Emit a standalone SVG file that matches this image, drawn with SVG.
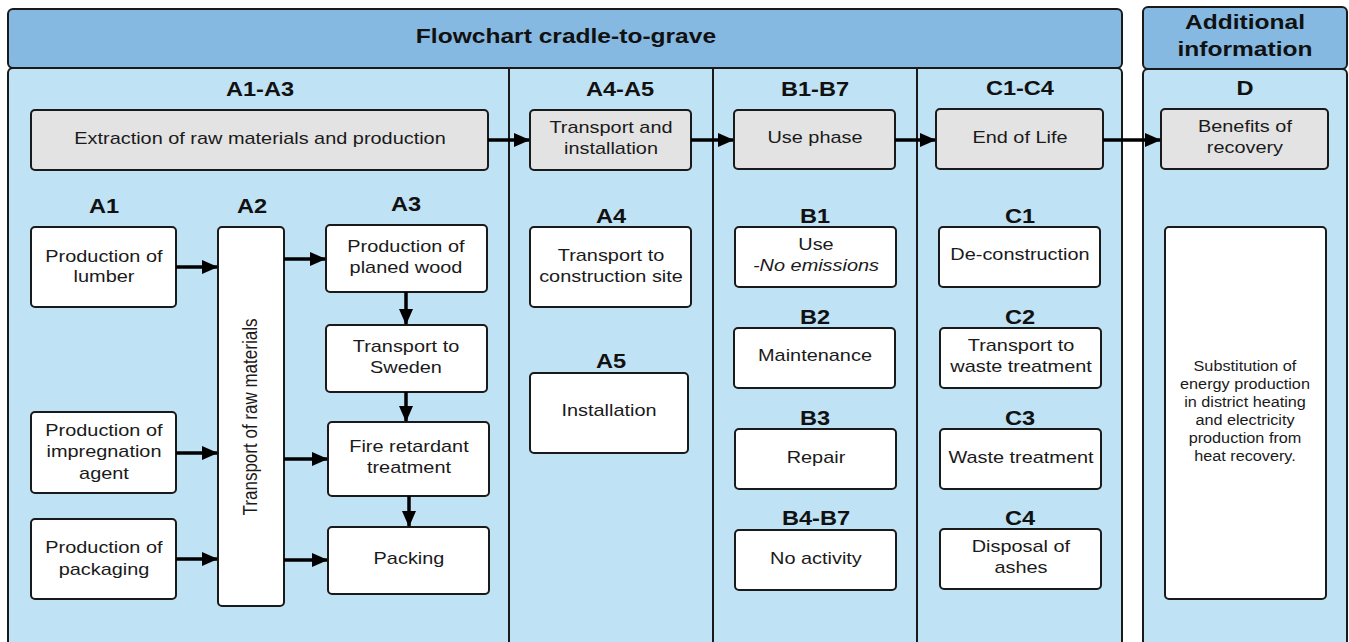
<svg xmlns="http://www.w3.org/2000/svg" width="1349" height="642" viewBox="0 0 1349 642">
<style>
.hdr{fill:#85b9e2;stroke:#1a1a1a;stroke-width:2}
.pan{fill:#c0e2f5;stroke:#1a1a1a;stroke-width:2}
.gbox{fill:#e3e3e3;stroke:#1a1a1a;stroke-width:2}
.wbox{fill:#ffffff;stroke:#1a1a1a;stroke-width:2}
text{font-family:"Liberation Sans",Arial,sans-serif;fill:#1a1a1a;text-anchor:middle}
.t,.b,.h,.s{transform-box:fill-box;transform-origin:center}
.t{font-size:17px;transform:scaleX(1.17)}
.s{font-size:14.5px;transform:scaleX(1.12)}
.b{font-size:20.5px;font-weight:bold;fill:#111;transform:scaleX(1.15)}
.h{font-size:21px;font-weight:bold;fill:#111;transform:scaleX(1.17)}
.r{font-size:17px}
.c line{stroke:#000;stroke-width:3.5;marker-end:url(#ah)}
</style>
<defs>
<marker id="ah" markerUnits="userSpaceOnUse" markerWidth="16" markerHeight="14" refX="15" refY="7" orient="auto">
<path d="M0,0 L16,7 L0,14 Z" fill="#000"/>
</marker>
</defs>
<rect width="1349" height="642" fill="#ffffff"/>
<g id="panels">
<rect class="pan" x="8" y="68" width="1114" height="590" rx="5"/>
<line x1="509" y1="68" x2="509" y2="642" stroke="#1a1a1a" stroke-width="2"/>
<line x1="713" y1="68" x2="713" y2="642" stroke="#1a1a1a" stroke-width="2"/>
<line x1="917" y1="68" x2="917" y2="642" stroke="#1a1a1a" stroke-width="2"/>
<rect class="pan" x="1143" y="69" width="204" height="590" rx="5"/>
<rect class="hdr" x="8" y="9" width="1114" height="59" rx="5"/>
<rect class="hdr" x="1143" y="7" width="204" height="62" rx="5"/>
<text class="h" x="566" y="43">Flowchart cradle-to-grave</text>
<text class="h" x="1245" y="29">Additional</text>
<text class="h" x="1245" y="56">information</text>
<text class="b" x="260" y="96.5">A1-A3</text>
<text class="b" x="620" y="96.5">A4-A5</text>
<text class="b" x="815" y="96.5">B1-B7</text>
<text class="b" x="1020" y="95.5">C1-C4</text>
<text class="b" x="1245" y="95.5">D</text>
<text class="b" x="104" y="213">A1</text>
<text class="b" x="252" y="213">A2</text>
<text class="b" x="406" y="211">A3</text>
<text class="b" x="611" y="223">A4</text>
<text class="b" x="611" y="368">A5</text>
<text class="b" x="815" y="223">B1</text>
<text class="b" x="815" y="324">B2</text>
<text class="b" x="815" y="425">B3</text>
<text class="b" x="816" y="525">B4-B7</text>
<text class="b" x="1020" y="223">C1</text>
<text class="b" x="1020" y="324">C2</text>
<text class="b" x="1020" y="425">C3</text>
<text class="b" x="1020" y="525">C4</text>
</g>
<g id="n-extraction"><rect class="gbox" x="31" y="110" width="457" height="60" rx="4"/><text class="t" x="260" y="144">Extraction of raw materials and production</text></g>
<g id="n-transport-install"><rect class="gbox" x="530" y="110" width="161" height="60" rx="4"/><text class="t" x="611" y="133">Transport and</text><text class="t" x="611" y="154">installation</text></g>
<g id="n-use-phase"><rect class="gbox" x="734" y="110" width="161" height="59" rx="4"/><text class="t" x="815" y="143">Use phase</text></g>
<g id="n-eol"><rect class="gbox" x="936" y="109" width="167" height="60" rx="4"/><text class="t" x="1020" y="143">End of Life</text></g>
<g id="n-benefits"><rect class="gbox" x="1161" y="109" width="167" height="60" rx="4"/><text class="t" x="1245" y="132">Benefits of</text><text class="t" x="1245" y="153">recovery</text></g>
<g id="n-lumber"><rect class="wbox" x="31" y="227" width="145" height="80" rx="4"/><text class="t" x="104" y="262">Production of</text><text class="t" x="104" y="282">lumber</text></g>
<g id="n-impreg"><rect class="wbox" x="31" y="412" width="145" height="81" rx="4"/><text class="t" x="104" y="436">Production of</text><text class="t" x="104" y="457">impregnation</text><text class="t" x="104" y="479">agent</text></g>
<g id="n-packaging"><rect class="wbox" x="31" y="519" width="145" height="80" rx="4"/><text class="t" x="104" y="553">Production of</text><text class="t" x="104" y="575">packaging</text></g>
<g id="n-transport-raw"><rect class="wbox" x="218" y="227" width="66" height="379" rx="4"/><text class="r" transform="translate(257,417) scale(1.17,1) rotate(-90)">Transport of raw materials</text></g>
<g id="n-planed"><rect class="wbox" x="326" y="225" width="161" height="67" rx="4"/><text class="t" x="406" y="252">Production of</text><text class="t" x="406" y="273">planed wood</text></g>
<g id="n-sweden"><rect class="wbox" x="326" y="325" width="161" height="67" rx="4"/><text class="t" x="406" y="352">Transport to</text><text class="t" x="406" y="373">Sweden</text></g>
<g id="n-fire"><rect class="wbox" x="328" y="422" width="161" height="74" rx="4"/><text class="t" x="409" y="452">Fire retardant</text><text class="t" x="409" y="473">treatment</text></g>
<g id="n-packing"><rect class="wbox" x="328" y="527" width="161" height="67" rx="4"/><text class="t" x="409" y="564">Packing</text></g>
<g id="n-a4"><rect class="wbox" x="530" y="227" width="161" height="80" rx="4"/><text class="t" x="611" y="261">Transport to</text><text class="t" x="611" y="282">construction site</text></g>
<g id="n-a5"><rect class="wbox" x="530" y="373" width="158" height="80" rx="4"/><text class="t" x="609" y="416">Installation</text></g>
<g id="n-b1"><rect class="wbox" x="735" y="227" width="161" height="60" rx="4"/><text class="t" x="816" y="250">Use</text><text class="t" x="816" y="271" font-style="italic">-No emissions</text></g>
<g id="n-b2"><rect class="wbox" x="734" y="328" width="161" height="60" rx="4"/><text class="t" x="815" y="361">Maintenance</text></g>
<g id="n-b3"><rect class="wbox" x="735" y="429" width="161" height="60" rx="4"/><text class="t" x="816" y="463">Repair</text></g>
<g id="n-b4b7"><rect class="wbox" x="735" y="530" width="161" height="60" rx="4"/><text class="t" x="816" y="564">No activity</text></g>
<g id="n-c1"><rect class="wbox" x="939" y="227" width="161" height="60" rx="4"/><text class="t" x="1020" y="260">De-construction</text></g>
<g id="n-c2"><rect class="wbox" x="940" y="328" width="161" height="60" rx="4"/><text class="t" x="1021" y="351">Transport to</text><text class="t" x="1021" y="372">waste treatment</text></g>
<g id="n-c3"><rect class="wbox" x="940" y="429" width="161" height="60" rx="4"/><text class="t" x="1021" y="463">Waste treatment</text></g>
<g id="n-c4"><rect class="wbox" x="940" y="529" width="161" height="60" rx="4"/><text class="t" x="1021" y="552">Disposal of</text><text class="t" x="1021" y="573">ashes</text></g>
<g id="n-d"><rect class="wbox" x="1165" y="227" width="161" height="372" rx="4"/>
<text class="s" x="1245" y="371">Substitution of</text>
<text class="s" x="1245" y="389">energy production</text>
<text class="s" x="1245" y="407">in district heating</text>
<text class="s" x="1245" y="425">and electricity</text>
<text class="s" x="1245" y="443">production from</text>
<text class="s" x="1245" y="461">heat recovery.</text></g>
<g id="connectors" class="c">
<line x1="488" y1="140" x2="529" y2="140"/>
<line x1="691" y1="140" x2="733" y2="140"/>
<line x1="895" y1="140" x2="935" y2="140"/>
<line x1="1103" y1="140" x2="1160" y2="140"/>
<line x1="176" y1="267" x2="217" y2="267"/>
<line x1="176" y1="453" x2="217" y2="453"/>
<line x1="176" y1="559" x2="217" y2="559"/>
<line x1="284" y1="259" x2="325" y2="259"/>
<line x1="284" y1="459" x2="327" y2="459"/>
<line x1="284" y1="560" x2="327" y2="560"/>
<line x1="406" y1="292" x2="406" y2="324"/>
<line x1="406" y1="392" x2="406" y2="421"/>
<line x1="409" y1="496" x2="409" y2="526"/>
</g>
</svg>
